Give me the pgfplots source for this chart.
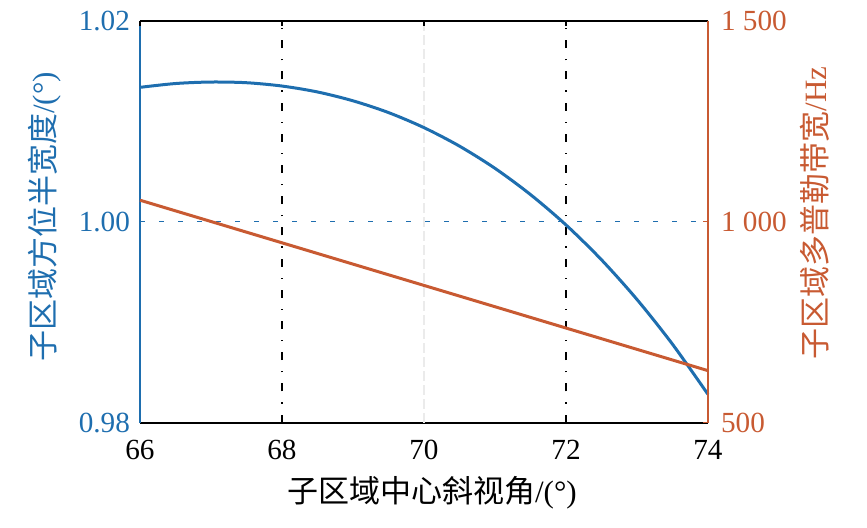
\documentclass[border=0pt]{standalone}
\usepackage{fontspec}
\setmainfont{Liberation Serif}
\newfontfamily\cjk{Noto Sans CJK SC}
\usepackage{pgfplots}
\pgfplotsset{compat=1.18}
\definecolor{mblue}{RGB}{30,110,175}
\definecolor{morange}{RGB}{200,90,50}
\begin{document}
\begin{tikzpicture}
\useasboundingbox (-70pt,-52.25pt) rectangle (363.5pt,211.25pt);
\begin{axis}[
  scale only axis, width=284pt, height=201pt,
  at={(0,0)}, anchor=south west,
  xmin=66, xmax=74, ymin=0.98, ymax=1.02,
  xtick={66,68,70,72,74}, ytick={0.98,1.00,1.02},
  axis x line*=bottom, axis y line*=left,
  x axis line style={-, black, line width=1pt},
  y axis line style={-, mblue, line width=1pt},
  tick align=inside, major tick length=2.5pt,
  x tick style={black, line width=0.8pt},
  y tick style={mblue, line width=0.8pt},
  tick label style={font=\fontsize{14.6}{16}\selectfont},
  x tick label style={black, yshift=-5.5pt},
  y tick label style={mblue, xshift=-1.5pt, /pgf/number format/fixed, /pgf/number format/fixed zerofill, /pgf/number format/precision=2},
  /pgf/number format/assume math mode=true,
  xlabel={{\cjk 子区域中心斜视角}/(°)},
  ylabel={{\cjk 子区域方位半宽度}/(°)},
  label style={font=\fontsize{15.5}{18}\selectfont},
  xlabel style={at={(axis description cs:0.514,-0.1754)}, anchor=center, black},
  ylabel style={at={(axis description cs:-0.1673,0.511)}, anchor=center, mblue},
  clip=false,
]
\draw[black!8, line width=0.6pt, dash pattern=on 5pt off 2pt] (axis cs:70,0.98) -- (axis cs:70,1.02);
\draw[black, line width=0.6pt, dash pattern=on 4pt off 5.5pt on 0.6pt off 5.5pt] (axis cs:68,0.98) -- (axis cs:68,1.02);
\draw[black, line width=0.6pt, dash pattern=on 4pt off 5.5pt on 0.6pt off 5.5pt] (axis cs:72,0.98) -- (axis cs:72,1.02);
\draw[mblue, line width=0.9pt, dash pattern=on 2.5pt off 7pt] (axis cs:66,1.00) -- (axis cs:74,1.00);
\addplot[mblue, line width=1.5pt, smooth, tension=0.5] coordinates {
(66,1.01335) (66.5,1.01373) (67,1.01388) (67.5,1.01381) (68,1.01348)
(68.5,1.01289) (69,1.01201) (69.5,1.01084) (70,1.00934) (70.5,1.00750)
(71,1.00529) (71.5,1.00268) (72,0.99966) (72.5,0.99619) (73,0.99224)
(73.5,0.98779) (74,0.98280)};
\end{axis}
\begin{axis}[
  scale only axis, width=284pt, height=201pt,
  at={(0,0)}, anchor=south west,
  xmin=66, xmax=74, ymin=500, ymax=1500,
  xtick={66,68,70,72,74}, xticklabels={},
  ytick={500,1000,1500}, yticklabels={500,1 000,1 500},
  axis x line*=top, axis y line*=right,
  x axis line style={-, black, line width=1pt},
  y axis line style={-, morange, line width=1pt},
  tick align=inside, major tick length=2.5pt,
  x tick style={black, line width=0.8pt},
  y tick style={morange, line width=0.8pt},
  tick label style={font=\fontsize{14.6}{16}\selectfont},
  y tick label style={morange, xshift=3pt},
  ylabel={{\cjk 子区域多普勒带宽}/Hz},
  label style={font=\fontsize{15.5}{18}\selectfont},
  ylabel style={at={(axis description cs:1.1884,0.521)}, anchor=center, morange},
  clip=false,
]
\addplot[morange, line width=1.5pt] coordinates {(66,1053) (74,629)};
\end{axis}
\end{tikzpicture}
\end{document}
